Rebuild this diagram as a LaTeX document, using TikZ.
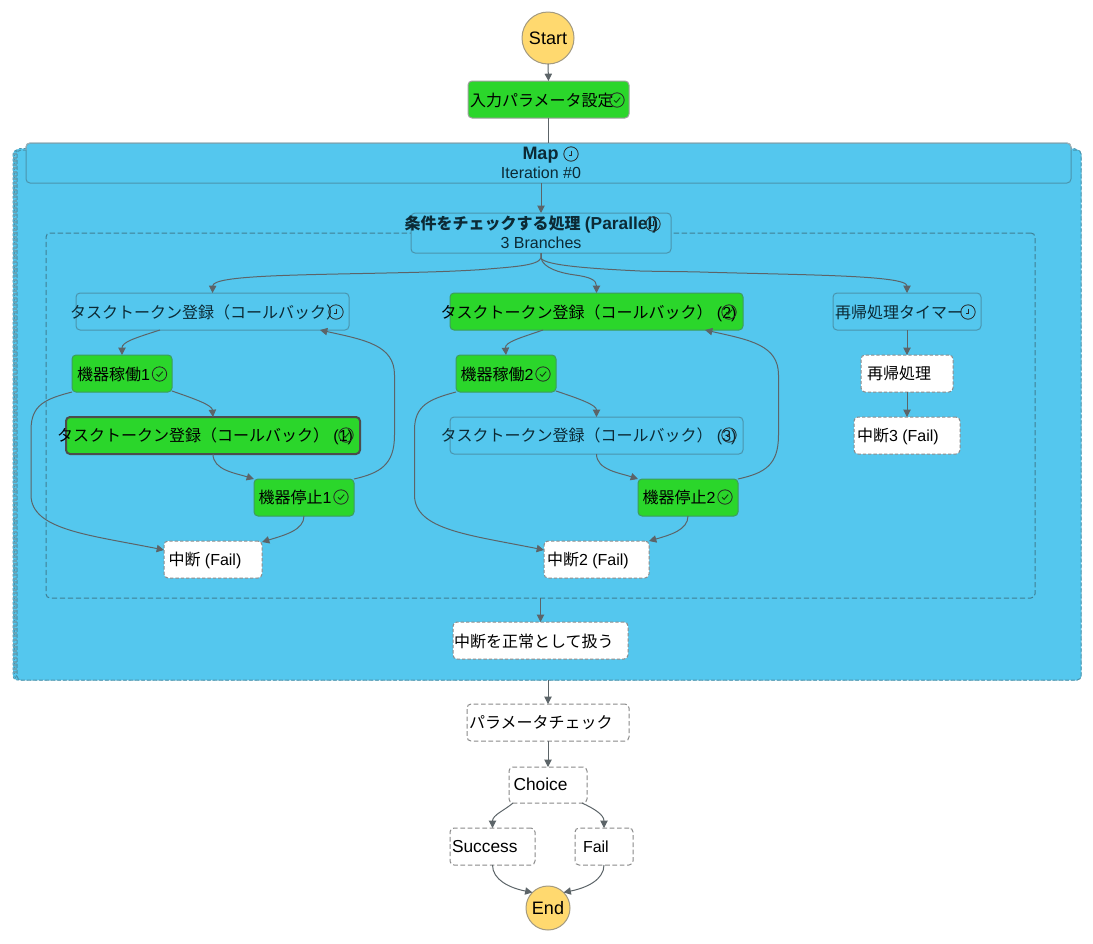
\documentclass[tikz,border=0pt]{standalone}
\usepackage{fontspec}
\setmainfont{Liberation Sans}
\newfontfamily\cjk{Noto Sans CJK JP}
\usetikzlibrary{arrows.meta,calc,shapes.geometric}
\definecolor{skyfill}{HTML}{54C7EE}
\definecolor{okgreen}{HTML}{2BD62B}
\definecolor{termfill}{HTML}{FFD96F}
\definecolor{termbord}{HTML}{A39A80}
\definecolor{edgegray}{HTML}{5C6468}
\definecolor{bluebord}{HTML}{4A94AD}
\definecolor{greenbord}{HTML}{3D9C5E}
\definecolor{dashbord}{HTML}{8A8A8A}
\definecolor{inktext}{HTML}{0C2A35}
\tikzset{
  x=0.75pt,y=-0.75pt,
  boxbase/.style={rectangle,rounded corners=3pt,inner sep=0pt,outer sep=0pt,line width=0.75pt},
  donebox/.style={boxbase,fill=okgreen,draw=greenbord},
  activebox/.style={boxbase,fill=okgreen,draw=black!70,line width=1.5pt},
  openbox/.style={boxbase,fill=skyfill,draw=bluebord},
  whitebox/.style={boxbase,fill=white,draw=dashbord,dash pattern=on 2.5pt off 1.5pt},
  plainbox/.style={boxbase,fill=white,draw=dashbord,dash pattern=on 3.5pt off 2pt},
  term/.style={circle,fill=termfill,draw=termbord,line width=0.75pt,inner sep=0pt,outer sep=0pt,font=\fontsize{13.5pt}{15pt}\selectfont},
  txt/.style={anchor=base west,inner sep=0pt,outer sep=0pt,font=\fontsize{12pt}{14pt}\selectfont,text=black},
  bigtxt/.style={txt,font=\fontsize{13pt}{15pt}\selectfont},
  inktxt/.style={txt,text=inktext},
  ctr/.style={anchor=base,inner sep=0pt,outer sep=0pt,font=\fontsize{12pt}{14pt}\selectfont,text=inktext},
  edge/.style={draw=edgegray,line width=0.75pt,-{Triangle[length=5.5pt,width=5.5pt]}},
  plain edge/.style={draw=edgegray,line width=0.75pt},
  iconring/.style={draw=black!85,line width=0.6pt},
}
% name, style, x1, y1, x2, y2
\newcommand{\stbox}[6]{\node[#2,minimum width={(#5-#3)*0.75pt},minimum height={(#6-#4)*0.75pt}] (#1) at ({(#3+#5)/2},{(#4+#6)/2}) {};}
\newcommand{\clockmark}[2]{\draw[iconring] (#1,#2) circle[radius=7.2];\draw[iconring] (#1,#2-3.5) -- (#1,#2+1) -- (#1-2.5,#2+1);}
\newcommand{\tickmark}[2]{\draw[iconring] (#1,#2) circle[radius=7.2];\draw[draw=black!70!okgreen,line width=0.7pt] (#1-3,#2+.3) -- (#1-.9,#2+2.4) -- (#1+3.2,#2-2.4);}
\begin{document}
\begin{tikzpicture}
\useasboundingbox (0,0) rectangle (1093,943);
\fill[white] (0,0) rectangle (1093,943);
% Map frame
\foreach \d in {0,1.5,3}{
  \draw[fill=skyfill,draw=bluebord,dash pattern=on 2pt off 1.5pt,line width=0.6pt,rounded corners=3pt] (13+\d,150-\d*0.5) rectangle (1081-\d,680-\d*0.5);
}
\draw[bluebord!85,line width=3pt,dash pattern=on 1.5pt off 1.2pt] (14.7,153) -- (14.7,675);
\stbox{map}{boxbase,fill=skyfill,draw=bluebord,dash pattern=on 3pt off 1.5pt}{17}{150}{1081}{680}
\stbox{maphdr}{boxbase,fill=skyfill,draw=bluebord}{26}{143}{1071}{183}
\draw[gray!60,line width=0.6pt,rounded corners=3pt] (26,150) -- (26,143) -- (1071,143) -- (1071,150);
% Parallel frame
\stbox{par}{boxbase,fill=skyfill,draw=bluebord!85!black,dash pattern=on 4pt off 2pt}{46}{233}{1035}{598}
\stbox{parhdr}{openbox}{411}{213}{671}{253}
% Terminals
\node[term,minimum size=39pt] (start) at (548,38) {Start};
\node[term,minimum size=33pt] (end) at (548,908) {End};
% Boxes
\stbox{input}{boxbase,fill=okgreen,draw=gray!75}{468}{81}{629}{118}
\stbox{tk}{openbox}{76}{293}{349}{330}
\stbox{on}{donebox}{72}{355}{172}{392}
\stbox{tkone}{activebox}{66}{417}{360}{454}
\stbox{off}{donebox}{254}{479}{354}{516}
\stbox{fail}{whitebox}{164}{541}{262}{578}
\stbox{tktwo}{donebox}{450}{293}{743}{330}
\stbox{ontwo}{donebox}{456}{355}{556}{392}
\stbox{tkthree}{openbox}{450}{417}{743}{454}
\stbox{offtwo}{donebox}{638}{479}{738}{516}
\stbox{failtwo}{whitebox}{544}{541}{649}{578}
\stbox{timer}{openbox}{833}{293}{981}{330}
\stbox{retry}{whitebox}{861}{355}{953}{392}
\stbox{failthree}{whitebox}{854}{417}{960}{454}
\stbox{treat}{whitebox}{453}{622}{628}{659}
\stbox{check}{plainbox}{467}{704}{629}{741}
\stbox{choice}{plainbox}{509}{767}{587}{803}
\stbox{succ}{plainbox}{450}{828}{535}{865}
\stbox{failend}{plainbox}{575}{828}{633}{865}
% Connectors
\draw[edge] (start.south) -- (input.north);
\draw[plain edge] (input.south) -- (maphdr.north -| input.south);
\draw[edge] (maphdr.south -| parhdr.north) -- (parhdr.north);
\draw[edge] (parhdr.south) -- (541,258) .. controls (538,266) and (510,267) .. (480,269.7) .. controls (450,271.5) and (430,272) .. (400,272.7) .. controls (300,275) and (213,275) .. (tk.north);
\draw[edge] (parhdr.south) -- (541,258) .. controls (543,268) and (560,273) .. (575,275) .. controls (590,277) and (596.5,280) .. (tktwo.north);
\draw[edge] (parhdr.south) -- (541,258) .. controls (544,266) and (600,269) .. (640,271) .. controls (660,271.5) and (680,271.5) .. (700,272) .. controls (800,275) and (907,275) .. (timer.north);
\draw[edge] ($(tk.south)+(-52.5,0)$) .. controls (135,338) and (122,342) .. (on.north);
\draw[edge] ($(on.east)+(0,17.5)$) .. controls (195,399) and (212,405) .. (tkone.north);
\draw[edge] (tkone.south) .. controls (213,470) and (235,473) .. (off.north west);
\draw[edge] (on.south west) .. controls (45,399) and (31,405) .. (31,430) -- (31,495) .. controls (31,530) and (90,535) .. ($(fail.west)+(0,-9.5)$);
\draw[edge] (off.south) .. controls (304,530) and (285,535) .. ($(fail.north east)+(0,1)$);
\draw[edge] (off.north east) .. controls (380,473) and (394.5,465) .. (394.5,435) -- (394.5,375) .. controls (394.5,345) and (365,340) .. ($(tk.south east)+(-29,0)$);
\draw[edge] ($(tktwo.south)+(-53.5,0)$) .. controls (520,338) and (505,342) .. (ontwo.north);
\draw[edge] ($(ontwo.east)+(0,17.5)$) .. controls (580,399) and (596.5,405) .. (tkthree.north);
\draw[edge] (tkthree.south) .. controls (596.5,470) and (620,473) .. (offtwo.north west);
\draw[edge] (ontwo.south west) .. controls (430,399) and (414.5,405) .. (414.5,430) -- (414.5,495) .. controls (414.5,530) and (470,535) .. ($(failtwo.west)+(0,-9.5)$);
\draw[edge] (offtwo.south) .. controls (688,530) and (670,535) .. ($(failtwo.north east)+(0,0)$);
\draw[edge] (offtwo.north east) .. controls (765,473) and (778.5,465) .. (778.5,435) -- (778.5,375) .. controls (778.5,345) and (750,340) .. ($(tktwo.south east)+(-38,0)$);
\draw[edge] (timer.south) -- (retry.north);
\draw[edge] (retry.south) -- (failthree.north);
\draw[edge] (par.south) -- (treat.north);
\draw[edge] (map.south -| check.north) -- (check.north);
\draw[edge] (check.south) -- (choice.north);
\draw[edge] ($(choice.south)+(-35,0)$) .. controls (505,810) and (492.5,815) .. (succ.north);
\draw[edge] ($(choice.south)+(34,0)$) .. controls (595,809) and (604,815) .. (failend.north);
\draw[edge] (succ.south) .. controls (492.5,880) and (510,888) .. (end.north west);
\draw[edge] (failend.south) .. controls (604,880) and (586,888) .. (end.north east);
% Texts
\node[txt] (tinput) at (470,106.5) {\cjk 入力パラメータ設定};
\tickmark{617}{100}
\node[ctr,font=\fontsize{13.5pt}{15pt}\selectfont\bfseries] (tmap) at (540.5,159) {Map};
\clockmark{571}{154}
\node[ctr] (titer) at (541,178.5) {Iteration \#0};
\node[inktxt,font=\fontsize{12pt}{14pt}\selectfont\bfseries] (tpar) at (404.5,229) {{\cjk 条件をチェックする処理} \fontsize{13pt}{14pt}\selectfont(Parallel)};
\clockmark{653}{224}
\node[ctr] (tbr) at (541,248.5) {3 Branches};
\node[inktxt] (ttk) at (70,318.5) {\cjk タスクトークン登録（コールバック）};
\clockmark{336}{312}
\node[txt] (ton) at (77,380.5) {{\cjk 機器稼働}1};
\tickmark{159.5}{374}
\node[txt] (ttkone) at (57,441.5) {{\cjk タスクトークン登録（コールバック）} (1)};
\tickmark{346}{435}
\node[txt] (toff) at (258.5,503.5) {{\cjk 機器停止}1};
\tickmark{341}{497}
\node[txt] (tfail) at (168.5,565.5) {{\cjk 中断} (Fail)};
\node[txt] (ttktwo) at (440.5,318.5) {{\cjk タスクトークン登録（コールバック）} (2)};
\tickmark{729}{312}
\node[txt] (tontwo) at (460.5,380.5) {{\cjk 機器稼働}2};
\tickmark{543}{374}
\node[inktxt] (ttkthree) at (440.5,441.5) {{\cjk タスクトークン登録（コールバック）} (3)};
\clockmark{729}{435}
\node[txt] (tofftwo) at (642.5,503.5) {{\cjk 機器停止}2};
\tickmark{725}{497}
\node[txt] (tfailtwo) at (547,565.5) {{\cjk 中断}2 (Fail)};
\node[inktxt] (ttimer) at (835,318.5) {\cjk 再帰処理タイマー};
\clockmark{968}{312}
\node[txt] (tretry) at (867,379.5) {\cjk 再帰処理};
\node[txt] (tfailthree) at (857,441.5) {{\cjk 中断}3 (Fail)};
\node[txt] (ttreat) at (454,647.5) {\cjk 中断を正常として扱う};
\node[txt] (tcheck) at (469,728.5) {\cjk パラメータチェック};
\node[bigtxt] (tchoice) at (513.5,790.5) {Choice};
\node[bigtxt] (tsucc) at (452,852.5) {Success};
\node[txt] (tfailend) at (583,852.5) {Fail};
\end{tikzpicture}
\end{document}
